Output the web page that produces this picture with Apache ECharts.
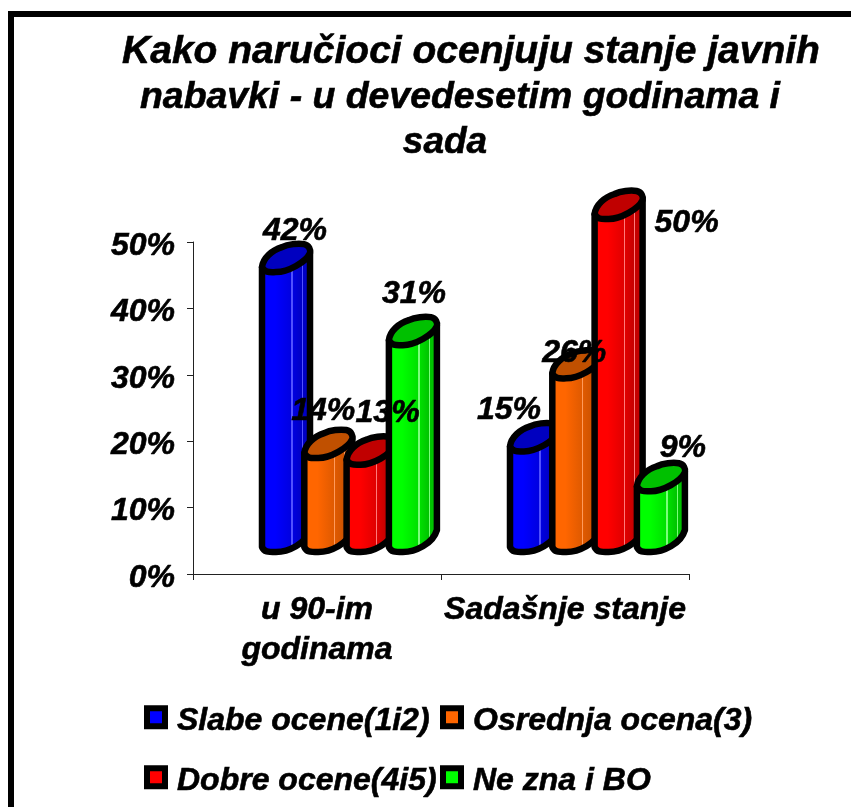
<!DOCTYPE html>
<html><head><meta charset="utf-8">
<style>html,body{margin:0;padding:0;background:#fff}#c{width:851px;height:807px}</style>
<script src="https://cdn.jsdelivr.net/npm/echarts@6/dist/echarts.min.js"></script>
</head><body><div id="c"></div>
<script>
const titleLines = ['Kako naručioci ocenjuju stanje javnih', 'nabavki - u devedesetim godinama i', 'sada'];
const categories = ['u 90-im\ngodinama', 'Sadašnje stanje'];
const seriesNames = ['Slabe ocene(1i2)', 'Osrednja ocena(3)', 'Dobre ocene(4i5)', 'Ne zna i BO'];
const slabe = [42, 15];
const osrednja = [14, 26];
const dobre = [13, 50];
const neZna = [31, 9];
const yTicks = [0, 10, 20, 30, 40, 50];
const seriesValues = [slabe, osrednja, dobre, neZna];

// look of each cylinder
const bodyLight = ['#0000ff', '#ff6600', '#ff0000', '#00ff00'];
const bodyMid = ['#0000e0', '#e05a00', '#e00000', '#00e000'];
const bodyDark = ['#0000c4', '#cc5200', '#c40000', '#00c400'];
const capCol = ['#0000c0', '#c05000', '#c00000', '#00c000'];
const stripe = ['#5050ff', '#ff9a5a', '#ff7a7a', '#7aff7a'];
const FONT = '"Liberation Sans", Arial, sans-serif';
const STEP = 42.3, START = -55, W = 48, DEPTH = 23;
const TEXT_WEIGHT = { textBorderColor: '#000', textBorderWidth: 0.6 };
// hand-placed data labels, [dx, dy] from the bar's cap, per series then category
const labelNudge = [
  [[33, -41], [-1, -41]],
  [[19, -47], [22, -25]],
  [[41, -52], [92, 4]],
  [[25, -51], [46, -43]]
];
const titleCentres = [471, 460, 445];
const titleSizes = [39, 37.4, 37];

function cylinderItem(si) {
  return function (params, api) {
    const cat = api.value(0), v = api.value(1);
    const p = api.coord([cat, v]), p0 = api.coord([cat, 0]);
    const L = p[0] + START + si * STEP, R = L + W;
    const yb = p0[1] - DEPTH + 1, yt = p[1] - DEPTH;
    const body = `M${L} ${yt - 5}L${L} ${yb - 5}C${L + 2} ${yb} ${L + 6} ${yb} ${L + 14} ${yb}C${L + 26} ${yb} ${R - 4} ${yb - 8} ${R} ${yb - 22}L${R} ${yt - 20}L${L} ${yt - 5}Z`;
    const cap = `M${L} ${yt - 5}C${L + 1} ${yt - 14} ${L + 10} ${yt - 22} ${L + 20} ${yt - 25}C${L + 26} ${yt - 28} ${R - 12} ${yt - 29} ${R - 6} ${yt - 28}C${R - 1} ${yt - 27} ${R + 1} ${yt - 22} ${R} ${yt - 19}C${R - 4} ${yt - 10} ${L + 26} ${yt} ${L + 14} ${yt}C${L + 8} ${yt} ${L + 3} ${yt + 1} ${L} ${yt - 5}Z`;
    const a = bodyLight[si], m = bodyMid[si], b = bodyDark[si], s = stripe[si];
    const fill = { type: 'linear', x: 0, y: 0, x2: 1, y2: 0, colorStops: [
      { offset: 0, color: a }, { offset: 0.025, color: a }, { offset: 0.025, color: s }, { offset: 0.045, color: s }, { offset: 0.045, color: a },
      { offset: 0.3, color: a }, { offset: 0.6, color: m }, { offset: 0.6, color: s }, { offset: 0.625, color: s }, { offset: 0.625, color: m },
      { offset: 0.79, color: b }, { offset: 0.79, color: s }, { offset: 0.81, color: s }, { offset: 0.81, color: b }, { offset: 1, color: b }
    ] };
    return { type: 'group', children: [
      { type: 'path', shape: { pathData: body }, style: { fill, stroke: '#000', lineWidth: 6.5, lineJoin: 'round' } },
      { type: 'path', shape: { pathData: cap }, style: { fill: capCol[si], stroke: '#000', lineWidth: 6.5, lineJoin: 'round' } }
    ] };
  };
}
function labelItem(params, api) {
  const si = api.value(2), cat = api.value(0), v = api.value(1);
  const p = api.coord([cat, v]);
  const n = labelNudge[si][cat];
  return { type: 'text', style: {
    x: p[0] + START + si * STEP + n[0], y: p[1] - DEPTH + n[1],
    text: v + '%', fill: '#000', align: 'center', verticalAlign: 'middle',
    font: 'italic bold 32px ' + FONT,
    stroke: '#000', lineWidth: 0.6
  } };
}

const series = seriesNames.map((name, si) => ({
  name, type: 'custom', coordinateSystem: 'cartesian2d',
  itemStyle: { color: bodyLight[si] },
  renderItem: cylinderItem(si), clip: false, z: 2,
  data: seriesValues[si].map((v, c) => [c, v])
}));
const labelData = [];
seriesValues.forEach((vals, si) => vals.forEach((v, c) => labelData.push([c, v, si])));
series.push({ name: 'labels', type: 'custom', coordinateSystem: 'cartesian2d', renderItem: labelItem, clip: false, z: 5, silent: true, data: labelData });

const legendPos = [[144, 705], [440, 705], [144, 765], [440, 765]];
const legend = seriesNames.map((name, i) => ({
  data: [name], left: legendPos[i][0], top: legendPos[i][1],
  itemWidth: 18, itemHeight: 18, itemGap: 0, icon: 'rect', selectedMode: false,
  itemStyle: { borderColor: '#000', borderWidth: 6, borderType: 'solid' },
  formatter: '{t|{name}}',
  textStyle: { rich: { t: Object.assign({ fontFamily: FONT, fontStyle: 'italic', fontWeight: 'bold', fontSize: 32, color: '#000', padding: [8, 0, 0, 7] }, TEXT_WEIGHT) } },
  padding: 0
}));

const chart = echarts.init(document.getElementById('c'), null, { renderer: 'canvas' });
chart.setOption({
  animation: false, backgroundColor: '#fff',
  title: titleLines.map((text, i) => ({ text, left: titleCentres[i], top: 30 + i * 45, textAlign: 'center', padding: 0,
    textStyle: Object.assign({ fontFamily: FONT, fontStyle: 'italic', fontWeight: 'bold', fontSize: titleSizes[i], lineHeight: 45, color: '#000' }, TEXT_WEIGHT) })),
  legend,
  grid: { left: 193, width: 496, top: 242, height: 332, containLabel: false },
  xAxis: { type: 'category', data: categories,
    axisLine: { lineStyle: { color: '#222', width: 1 } },
    axisTick: { show: true, length: 6, lineStyle: { color: '#222', width: 1 } },
    splitLine: { show: false },
    axisLabel: Object.assign({ interval: 0, margin: 16, fontFamily: FONT, fontStyle: 'italic', fontWeight: 'bold', fontSize: 32, lineHeight: 40, color: '#000' }, TEXT_WEIGHT) },
  yAxis: { type: 'value', min: yTicks[0], max: yTicks[yTicks.length - 1], interval: 10, splitLine: { show: false },
    axisLine: { show: true, lineStyle: { color: '#222', width: 1 } },
    axisTick: { show: true, length: 6, lineStyle: { color: '#222', width: 1 } },
    axisLabel: Object.assign({ margin: 18, verticalAlign: 'top', lineHeight: 8, formatter: '{value}%', fontFamily: FONT, fontStyle: 'italic', fontWeight: 'bold', fontSize: 32, color: '#000' }, TEXT_WEIGHT) },
  graphic: [
    { type: 'rect', shape: { x: 8, y: 11, width: 6, height: 796 }, style: { fill: '#000' }, z: 10 },
    { type: 'rect', shape: { x: 8, y: 11, width: 843, height: 6 }, style: { fill: '#000' }, z: 10 }
  ],
  series
});
</script></body></html>
